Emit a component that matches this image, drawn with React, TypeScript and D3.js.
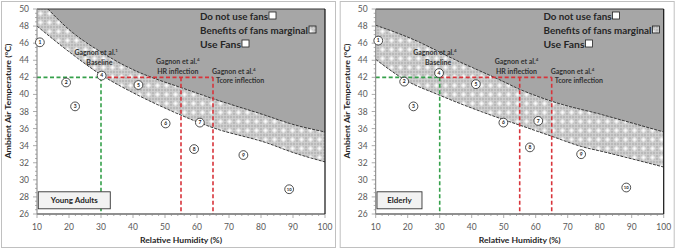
import React from "react";
import * as d3 from "d3";

const RH_TICKS = [10, 20, 30, 40, 50, 60, 70, 80, 90, 100];
const T_TICKS = [26, 28, 30, 32, 34, 36, 38, 40, 42, 44, 46, 48, 50];

const youngUpperRH = [13.4, 20, 30.7, 40, 48, 55, 65, 81, 89, 100];
const youngUpperT = [50, 47.6, 44.8, 42.9, 41.7, 40.8, 39.5, 37.6, 36.6, 35.6];
const youngLowerRH = [10, 20, 30, 40, 50, 60, 65, 82, 90, 100];
const youngLowerT = [48.0, 45.0, 42.3, 40.2, 38.4, 36.8, 36.1, 34.3, 33.2, 32.1];

const elderlyUpperRH = [10, 20.7, 36.3, 48.8, 55, 65, 81, 100];
const elderlyUpperT = [48.1, 46.6, 43.8, 41.7, 40.6, 39.2, 37.6, 35.6];
const elderlyLowerRH = [10, 19.2, 30, 48.8, 55, 65, 74.3, 81, 100];
const elderlyLowerT = [44.1, 41.7, 39.9, 37.2, 36.4, 35.1, 33.9, 33.3, 31.5];

const pointLabels = ["1", "2", "3", "4", "5", "6", "7", "8", "9", "10"];
const youngPointRH = [10.9, 19.1, 21.9, 30.2, 41.7, 50.2, 60.9, 59.1, 74.5, 88.8];
const youngPointT = [46.1, 41.4, 38.6, 42.2, 41.1, 36.6, 36.7, 33.6, 32.9, 28.9];
const elderlyPointRH = [10.8, 18.9, 21.8, 29.8, 41.3, 49.9, 60.8, 58.2, 74.2, 88.3];
const elderlyPointT = [46.3, 41.5, 38.6, 42.5, 41.2, 36.7, 36.9, 33.8, 33.0, 29.1];

const THRESHOLD_T = 42;
const BASELINE_RH = 30;
const HR_RH = 55;
const TCORE_RH = 65;

const legendLabels = ["Do not use fans", "Benefits of fans marginal", "Use Fans"];
const legendWidths = [68, 108, 41];

const FONT = "Lato, 'Open Sans', sans-serif";

type PanelProps = {
  ox: number;
  idx: number;
  title: string;
  titleW: number;
  upperRH: number[];
  upperT: number[];
  lowerRH: number[];
  lowerT: number[];
  ptRH: number[];
  ptT: number[];
  legendX: number;
  sup1: string;
};

function Panel(p: PanelProps) {
  const left = 37 + p.ox;
  const top = 9;
  const w = 288;
  const h = 205;
  const x = d3.scaleLinear().domain([10, 100]).range([left, left + w]);
  const y = d3.scaleLinear().domain([26, 50]).range([top + h, top]);

  const upper = p.upperRH.map((r, i) => [r, p.upperT[i]] as [number, number]);
  const lower = p.lowerRH.map((r, i) => [r, p.lowerT[i]] as [number, number]);

  const hatchArea = d3
    .area<[number, number]>()
    .x((d) => x(d[0]))
    .y0(y(50))
    .y1((d) => y(d[1]))
    .curve(d3.curveMonotoneX);
  const line = d3
    .line<[number, number]>()
    .x((d) => x(d[0]))
    .y((d) => y(d[1]))
    .curve(d3.curveMonotoneX);

  const clipId = `clip${p.idx}`;
  const minorY = d3.range(26, 50.01, 0.5);
  const minorX = d3.range(10, 100.01, 2);
  const green = "#35a04a";
  const red = "#d8343b";
  const dash = "4,2.5";

  const legendRowsY = [19.5, 33.5, 47.5];

  return (
    <g>
      <rect x={p.ox + 1.5} y={1.5} width={334} height={246} fill="#fff" stroke="#c0c0c0" strokeWidth={1} />
      <clipPath id={clipId}>
        <rect x={left} y={top} width={w} height={h} />
      </clipPath>
      <g clipPath={`url(#${clipId})`}>
        <path d={hatchArea(lower) || ""} fill="url(#hatch)" />
        <path d={hatchArea(upper) || ""} fill="#a6a6a6" />
        <path d={line(upper) || ""} fill="none" stroke="#2a2a2a" strokeWidth={0.9} strokeDasharray="3,1.2" />
        <path d={line(lower) || ""} fill="none" stroke="#2a2a2a" strokeWidth={0.9} strokeDasharray="3,1.2" />
        <line x1={x(10)} x2={x(BASELINE_RH)} y1={y(THRESHOLD_T)} y2={y(THRESHOLD_T)} stroke={green} strokeWidth={1.6} strokeDasharray={dash} />
        <line x1={x(BASELINE_RH)} x2={x(BASELINE_RH)} y1={y(THRESHOLD_T)} y2={y(26)} stroke={green} strokeWidth={1.6} strokeDasharray={dash} />
        <line x1={x(BASELINE_RH)} x2={x(TCORE_RH)} y1={y(THRESHOLD_T)} y2={y(THRESHOLD_T)} stroke={red} strokeWidth={1.6} strokeDasharray={dash} />
        <line x1={x(HR_RH)} x2={x(HR_RH)} y1={y(THRESHOLD_T)} y2={y(26)} stroke={red} strokeWidth={1.6} strokeDasharray={dash} />
        <line x1={x(TCORE_RH)} x2={x(TCORE_RH)} y1={y(THRESHOLD_T)} y2={y(26)} stroke={red} strokeWidth={1.6} strokeDasharray={dash} />
      </g>
      <line x1={left} x2={left + w} y1={top} y2={top} stroke="#333" strokeWidth={1} />
      <line x1={left + w} x2={left + w} y1={top} y2={top + h} stroke="#111" strokeWidth={1.2} />
      <line x1={left} x2={left + w} y1={top + h} y2={top + h} stroke="#222" strokeWidth={1.2} />
      <line x1={left} x2={left} y1={top} y2={top + h} stroke="#7f7f7f" strokeWidth={1} />
      {minorY.map((v) => (
        <line key={"my" + v} x1={left - (v % 2 === 0 ? 4 : 2)} x2={left} y1={y(v)} y2={y(v)} stroke="#8a8a8a" strokeWidth={0.7} />
      ))}
      {T_TICKS.map((v) => (
        <text key={"ty" + v} x={left - 8} y={y(v) + 3} fontSize={8.5} fill="#595959" textAnchor="end" fontFamily={FONT}>
          {v}
        </text>
      ))}
      {minorX.map((v) => (
        <line key={"mx" + v} x1={x(v)} x2={x(v)} y1={top + h} y2={top + h + (v % 10 === 0 ? 4 : 2)} stroke="#8a8a8a" strokeWidth={0.7} />
      ))}
      {RH_TICKS.map((v) => (
        <text key={"tx" + v} x={x(v)} y={229.5} fontSize={8.5} fill="#595959" textAnchor="middle" fontFamily={FONT}>
          {v}
        </text>
      ))}
      <text x={left + 144} y={243} fontSize={8} fontWeight="bold" fill="#262626" textAnchor="middle" fontFamily={FONT} textLength={82} lengthAdjust="spacingAndGlyphs">
        Relative Humidity (%)
      </text>
      <text
        transform={`translate(${p.ox + 11},${101}) rotate(-90)`}
        fontSize={8}
        fontWeight="bold"
        fill="#262626"
        textAnchor="middle"
        fontFamily={FONT}
        textLength={115}
        lengthAdjust="spacingAndGlyphs"
      >
        Ambient Air Temperature (°C)
      </text>
      <g fontFamily={FONT} fontSize={7} fontWeight="bold" fill="#333" textAnchor="middle">
        <text x={x(28.5)} y={y(44.6)}>
          Gagnon et al.<tspan dy={-3} fontSize={4.5}>{p.sup1}</tspan>
        </text>
        <text x={x(29.5)} y={y(43.5)}>Baseline</text>
        <text x={x(54)} y={y(43.6)}>
          Gagnon et al.<tspan dy={-3} fontSize={4.5}>4</tspan>
        </text>
        <text x={x(54)} y={y(42.4)}>HR inflection</text>
        <text x={x(71.5)} y={y(42.4)}>
          Gagnon et al.<tspan dy={-3} fontSize={4.5}>4</tspan>
        </text>
        <text x={x(73.5)} y={y(41.3)}>Tcore inflection</text>
      </g>
      {pointLabels.map((lab, i) => (
        <g key={"pt" + i}>
          <circle cx={x(p.ptRH[i])} cy={y(p.ptT[i])} r={4.4} fill="#fff" stroke="#222" strokeWidth={0.8} />
          <text x={x(p.ptRH[i])} y={y(p.ptT[i]) + 1.8} fontSize={lab.length > 1 ? 4.2 : 5} fontWeight="bold" textAnchor="middle" fill="#222" fontFamily={FONT}>
            {lab}
          </text>
        </g>
      ))}
      {legendLabels.map((lab, i) => (
        <g key={"lg" + i}>
          <text x={p.legendX} y={legendRowsY[i]} fontSize={10} fontWeight="bold" fill="#262626" fontFamily={FONT} textLength={legendWidths[i]} lengthAdjust="spacingAndGlyphs">
            {lab}
          </text>
          <rect
            x={p.legendX + legendWidths[i] + 1}
            y={legendRowsY[i] - 7.5}
            width={7}
            height={7}
            fill={i === 1 ? "url(#hatch)" : "#fff"}
            stroke="#222"
            strokeWidth={0.8}
          />
        </g>
      ))}
      <rect x={x(10.4)} y={y(28.6)} width={p.titleW} height={17} fill="#f2f2f2" stroke="#333" strokeWidth={0.9} />
      <text x={x(10.4) + p.titleW / 2} y={y(28.6) + 11.5} fontSize={8} fontWeight="bold" fill="#262626" textAnchor="middle" fontFamily={FONT}>
        {p.title}
      </text>
    </g>
  );
}

export default function App() {
  return (
    <svg width={678} height={251} style={{ position: "absolute", left: 0, top: 0 }} xmlns="http://www.w3.org/2000/svg">
      <defs>
        <radialGradient id="spot">
          <stop offset="0%" stopColor="#ffffff" stopOpacity={1} />
          <stop offset="55%" stopColor="#ffffff" stopOpacity={0.55} />
          <stop offset="100%" stopColor="#ffffff" stopOpacity={0} />
        </radialGradient>
        <pattern id="hatch" patternUnits="userSpaceOnUse" width={9} height={9}>
          <rect width={9} height={9} fill="#b9b9b9" />
          <path d="M0,1.5H9M0,4.5H9M0,7.5H9M1.5,0V9M4.5,0V9M7.5,0V9" stroke="#d0d0d0" strokeWidth={0.8} />
          <circle cx={4.5} cy={4.5} r={3.2} fill="url(#spot)" />
        </pattern>
      </defs>
      <rect width={678} height={251} fill="#fff" />
      <Panel
        ox={0}
        idx={0}
        title="Young Adults"
        titleW={72}
        upperRH={youngUpperRH}
        upperT={youngUpperT}
        lowerRH={youngLowerRH}
        lowerT={youngLowerT}
        ptRH={youngPointRH}
        ptT={youngPointT}
        legendX={200}
        sup1="1"
      />
      <Panel
        ox={338.7}
        idx={1}
        title="Elderly"
        titleW={45}
        upperRH={elderlyUpperRH}
        upperT={elderlyUpperT}
        lowerRH={elderlyLowerRH}
        lowerT={elderlyLowerT}
        ptRH={elderlyPointRH}
        ptT={elderlyPointT}
        legendX={543.5}
        sup1="4"
      />
    </svg>
  );
}
